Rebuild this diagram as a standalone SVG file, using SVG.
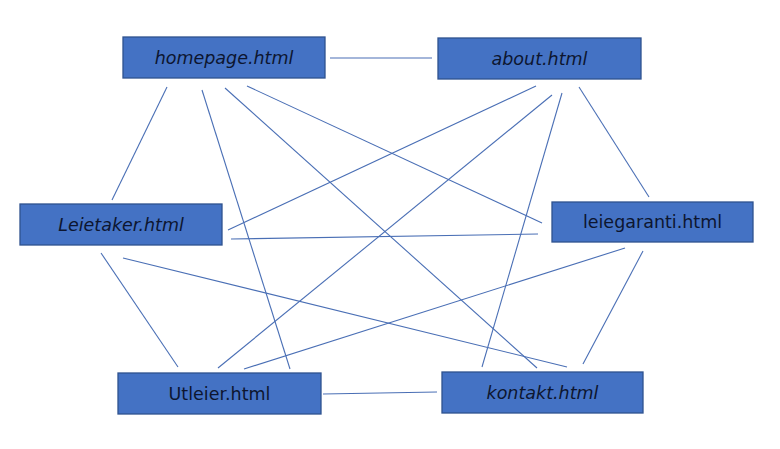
<svg xmlns="http://www.w3.org/2000/svg" width="780" height="449" viewBox="0 0 780 449">
<style>
.box{fill:#4472C4;stroke:#2F528F;stroke-width:1.3}
.lbl{font-family:"DejaVu Sans","Liberation Sans",sans-serif;font-size:17.5px;fill:#0d1630;text-anchor:middle;dominant-baseline:central}
.it{font-style:italic}
.edges line{stroke:#4a6fb5;stroke-width:1.1;fill:none}
</style>
<rect width="780" height="449" fill="#ffffff"/>
<g id="connectors" class="edges">
<line x1="330" y1="58" x2="432" y2="58"/>
<line x1="167" y1="87" x2="112" y2="200"/>
<line x1="202" y1="90" x2="290" y2="369"/>
<line x1="225" y1="88" x2="537" y2="368"/>
<line x1="247" y1="86" x2="542" y2="223"/>
<line x1="536" y1="86" x2="228" y2="230"/>
<line x1="552" y1="95" x2="218" y2="368"/>
<line x1="562" y1="93" x2="482" y2="367"/>
<line x1="579" y1="87" x2="649" y2="197"/>
<line x1="231" y1="239" x2="538" y2="234"/>
<line x1="101" y1="253" x2="178" y2="367"/>
<line x1="123" y1="258" x2="567" y2="367"/>
<line x1="625" y1="248" x2="244" y2="369"/>
<line x1="643" y1="251" x2="583" y2="364"/>
<line x1="323" y1="394" x2="437" y2="392"/>
</g>
<g id="homepage"><rect class="box" x="123" y="37" width="202" height="41"/><text class="lbl it" x="224" y="57.5">homepage.html</text></g>
<g id="about"><rect class="box" x="438" y="38" width="203" height="41"/><text class="lbl it" x="539.5" y="58.5">about.html</text></g>
<g id="leietaker"><rect class="box" x="20" y="204" width="202" height="41"/><text class="lbl it" x="121" y="224.5">Leietaker.html</text></g>
<g id="leiegaranti"><rect class="box" x="552" y="202" width="201" height="40"/><text class="lbl" x="652.5" y="222">leiegaranti.html</text></g>
<g id="utleier"><rect class="box" x="118" y="373" width="203" height="41"/><text class="lbl" x="219.5" y="393.5">Utleier.html</text></g>
<g id="kontakt"><rect class="box" x="442" y="372" width="201" height="41"/><text class="lbl it" x="542.5" y="392.5">kontakt.html</text></g>
</svg>
